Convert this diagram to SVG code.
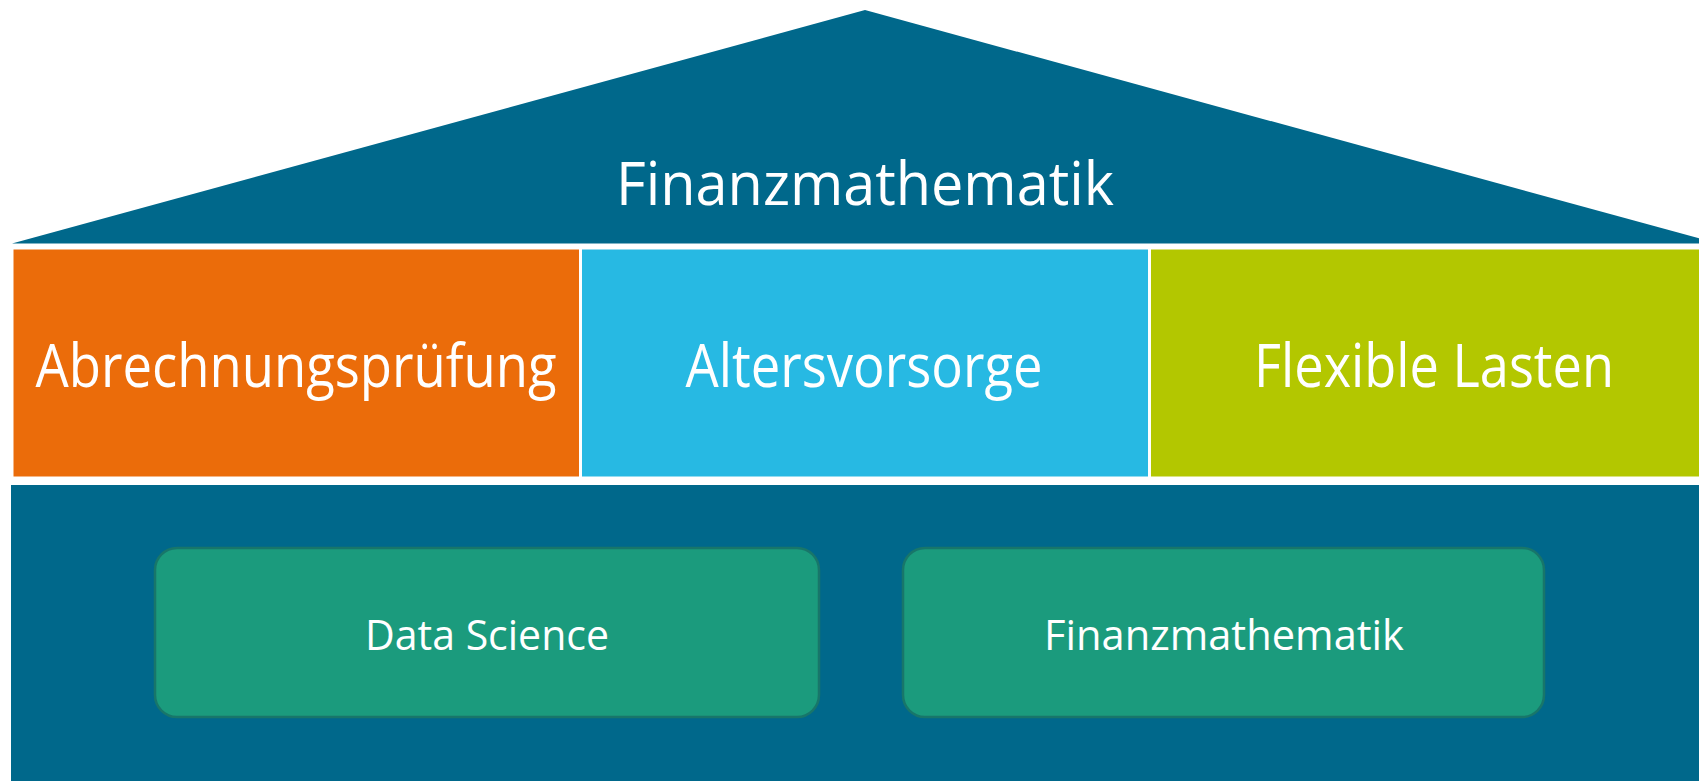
<svg xmlns="http://www.w3.org/2000/svg" width="1699" height="781" viewBox="0 0 1699 781">
  <style>
    .big { font-family: "Open Sans", "Noto Sans", "Liberation Sans", sans-serif; font-size: 60px; fill: #ffffff; text-anchor: middle; }
    .small { font-family: "Open Sans", "Noto Sans", "Liberation Sans", sans-serif; font-size: 42px; fill: #ffffff; text-anchor: middle; }
    .pillar { stroke: none; }
    .block { fill: #1B9B7D; stroke: #18766A; stroke-width: 2.5; }
  </style>
  <rect x="0" y="0" width="1699" height="781" fill="#ffffff"/>

  <!-- roof -->
  <g id="roof">
    <polygon points="12,243.5 865,10 1718,243.5" fill="#00688B"/>
    <text class="big" x="865" y="205" textLength="498" lengthAdjust="spacingAndGlyphs">Finanzmathematik</text>
  </g>

  <!-- pillars -->
  <g id="pillar-abrechnung">
    <rect class="pillar" x="13.5" y="249.5" width="565.5" height="227" fill="#EB6C0A"/>
    <text class="big" x="296" y="387" textLength="521" lengthAdjust="spacingAndGlyphs">Abrechnungsprüfung</text>
  </g>
  <g id="pillar-alter">
    <rect class="pillar" x="582" y="249.5" width="566" height="227" fill="#27B9E3"/>
    <text class="big" x="864" y="387" textLength="357" lengthAdjust="spacingAndGlyphs">Altersvorsorge</text>
  </g>
  <g id="pillar-lasten">
    <rect class="pillar" x="1151" y="249.5" width="566" height="227" fill="#B3C700"/>
    <text class="big" x="1434" y="387" textLength="360" lengthAdjust="spacingAndGlyphs">Flexible Lasten</text>
  </g>

  <!-- foundation -->
  <g id="foundation">
    <rect x="11" y="485" width="1700" height="300" fill="#00688B"/>
  </g>
  <g id="block-datascience">
    <rect class="block" x="155" y="548" width="664" height="169" rx="22" ry="22"/>
    <text class="small" x="487" y="650" textLength="244" lengthAdjust="spacingAndGlyphs">Data Science</text>
  </g>
  <g id="block-finanz">
    <rect class="block" x="903" y="548" width="641" height="169" rx="22" ry="22"/>
    <text class="small" x="1224" y="650" textLength="360" lengthAdjust="spacingAndGlyphs">Finanzmathematik</text>
  </g>

  <g id="connectors"/>
</svg>
